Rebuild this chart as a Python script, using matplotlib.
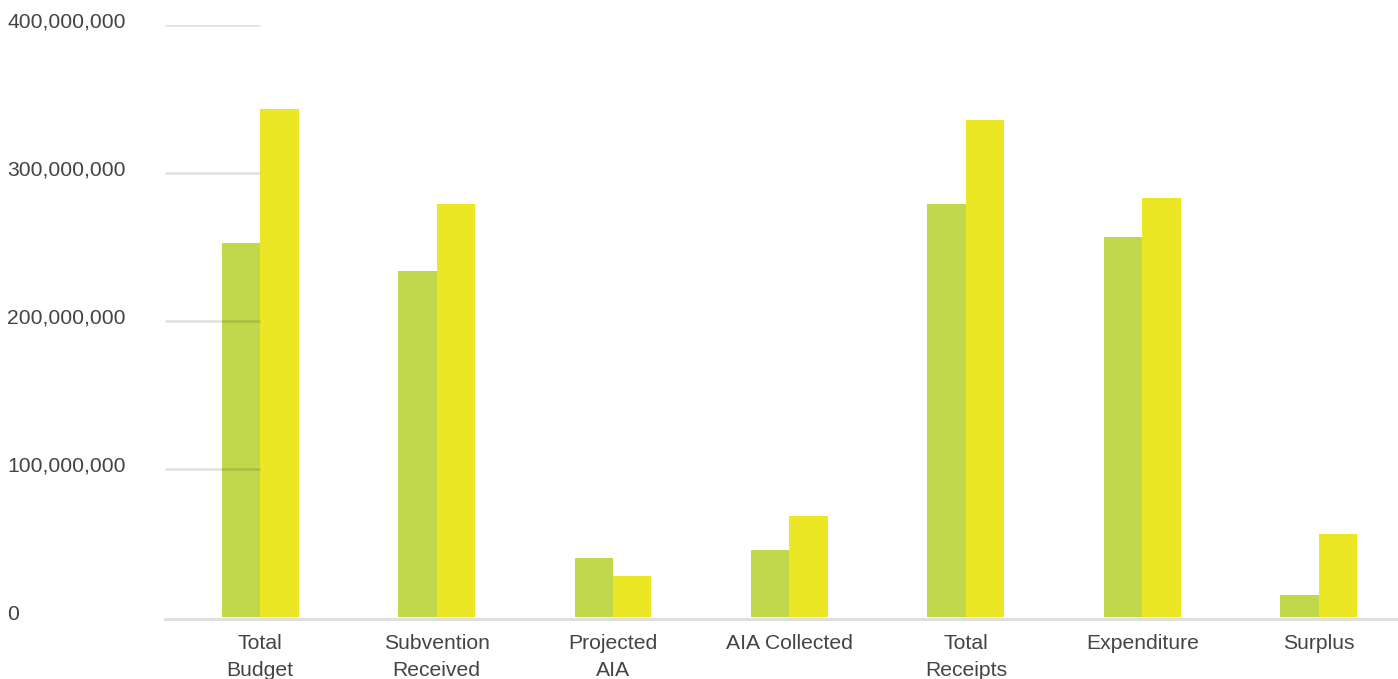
import matplotlib.pyplot as plt
import numpy as np
from matplotlib.transforms import blended_transform_factory

plt.rcParams["font.family"] = ["Liberation Sans", "DejaVu Sans"]

categories = [
    "Total\nBudget",
    "Subvention\nReceived",
    "Projected\nAIA",
    "AIA Collected",
    "Total\nReceipts",
    "Expenditure",
    "Surplus",
]
previous_year = [253e6, 234e6, 40e6, 45e6, 279e6, 257e6, 15e6]
current_year = [343e6, 279e6, 28e6, 68e6, 336e6, 283e6, 56e6]
y_ticks = [0, 100e6, 200e6, 300e6, 400e6]

green = "#c1d84b"
yellow = "#ece725"
text_color = "#444444"

fig = plt.figure(figsize=(13.98, 6.79), dpi=100)
ax = fig.add_axes([165 / 1398, 62 / 679, 1 - 165 / 1398, (617 - 25) / 679])

x = np.arange(len(categories))
width = 0.218
ax.bar(x - width / 2, previous_year, width, color=green, zorder=2)
ax.bar(x + width / 2, current_year, width, color=yellow, zorder=2)

ax.set_xlim(-0.54, 6.45)
ax.set_ylim(0, 400e6)

# short grid stubs on the left, drawn over the bars
for v in y_ticks[1:]:
    ax.hlines(v, -0.54, 0, color="black", alpha=0.11, lw=2, zorder=3)
ax.axhline(-1.2e6, color="#dddddd", lw=2, zorder=1, clip_on=False)

for s in ax.spines.values():
    s.set_visible(False)
ax.set_yticks([])
ax.set_xticks(x)
ax.set_xticklabels(categories, fontsize=15.2, color=text_color, linespacing=1.55)
ax.tick_params(axis="x", length=0, pad=12)

trans = blended_transform_factory(fig.transFigure, ax.transData)
for v in y_ticks:
    ax.text(7 / 1398, v + 2e6, f"{int(v):,}", transform=trans, ha="left",
            va="center", fontsize=15.2, color=text_color)

fig.savefig("out.png", dpi=100)
